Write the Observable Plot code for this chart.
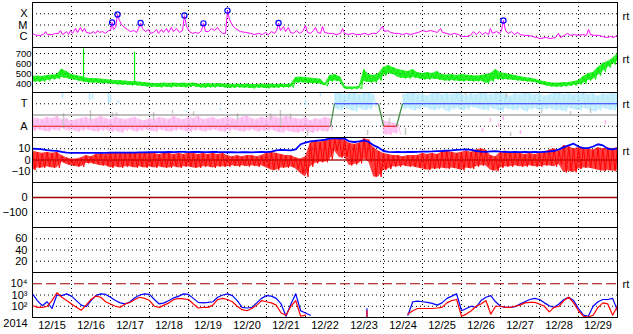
<!DOCTYPE html>
<html><head><meta charset="utf-8">
<script src="https://cdn.jsdelivr.net/npm/d3@7"></script>
<script src="https://cdn.jsdelivr.net/npm/@observablehq/plot@0.6"></script>
<style>
body{margin:0;background:#fff;}
#chart{position:relative;width:633px;height:334px;}
#chart svg{position:absolute;left:0;}
</style></head><body><div id="chart"></div>
<script>
const START = Date.UTC(2014, 11, 15);
const END = Date.UTC(2014, 11, 30);
const STEP_H = 3;
const yearLabel = "2014";
const dayLabels = ["12/15","12/16","12/17","12/18","12/19","12/20","12/21","12/22","12/23","12/24","12/25","12/26","12/27","12/28","12/29"];

// X-ray flux (units of 1e-6 W/m2, i.e. C1 = 1)
const xrHours = [0,1.2,3.1,4.9,6.8,8.0,9.2,12.3,14.2,16,17.2,18.5,20.9,22.2,23.4,24.6,26.5,27.7,29.5,30.8,32,33.2,35.7,37.5,38.8,40,41.2,43.1,44.9,46.8,48,49.0,49.8,51.1,52.3,53.5,54.8,56.6,58.5,60.3,62.2,64,65.2,66.5,67.7,69.5,71.4,72.6,74.5,76.3,77.5,79.4,80.6,82.5,83.7,85.5,86.8,88.6,90.5,92.3,93.5,94.8,96.6,98.5,100.3,102.2,104,105.2,106.5,108.3,110.2,112,113.8,115.1,116.9,118.8,120,121.2,123.1,124.9,128,131.1,134.2,136.6,139.1,141.5,143.4,145.2,147.1,148.9,150.2,151.4,152.6,154.5,155.7,157.5,158.8,160.6,162.5,164.3,166.2,168,169.2,171.1,172.9,174.2,175.4,177.2,178.5,179.7,182.2,184.6,187.1,189.5,190.8,192,194.5,196.9,199.4,201.8,204.3,206.8,209.2,211.7,213.5,215.4,216.6,218.5,220.3,222.8,225.2,227.7,230.2,232.6,235.1,237.5,240,242.5,244.9,247.4,249.2,251.1,252.3,254.8,257.2,259.7,262.2,264.6,267.1,269.5,271.4,273.2,275.1,276.9,278.8,280.6,281.8,283.1,285.5,287.4,288.6,289.8,291.1,292.9,294.8,296.6,298.5,300.3,302.8,305.2,307.7,310.2,312.6,315.7,318.8,321.8,323.7,324.9,327.4,329.2,331.1,333.5,336,338.5,340.9,342.2,343.4,345.8,348.3,350.8,353.2,355.7,357.5,360];
const xrFlux = [1.8,1.4,1.2,1.2,1.5,2.6,1.4,1.4,1.8,1.8,3.2,1.4,2.6,1.4,3.2,1.8,4.9,2.2,6.0,2.6,4.9,2.2,1.8,2.6,1.8,3.2,2.2,2.6,1.8,3.2,3.2,17,4.0,6.0,87,25,11,6.0,4.0,2.6,3.2,2.2,4.9,15,4.9,2.6,4.0,1.8,2.2,4.0,1.8,4.0,2.2,4.9,2.2,6.0,2.6,4.9,2.2,3.2,69,7.4,2.6,1.8,2.2,1.8,3.2,14,2.6,2.6,4.9,3.2,6.0,3.2,1.8,1.8,190,30,9.0,4.9,2.6,2.2,1.8,1.4,1.8,1.4,2.2,1.4,2.6,1.8,3.2,15,3.2,7.4,2.6,6.0,2.2,1.8,3.2,1.8,2.6,9.0,2.2,1.8,3.2,6.0,2.2,1.8,7.4,2.2,1.8,1.8,1.4,1.8,4.9,1.8,1.4,1.8,1.4,1.4,1.8,1.4,1.8,1.8,3.2,7.4,2.6,3.2,2.2,1.8,1.8,1.4,1.8,1.4,1.8,2.2,3.2,2.6,3.2,2.6,2.2,4.9,2.2,1.8,1.4,1.8,1.4,0.95,0.95,1.2,2.6,1.4,2.6,1.4,2.2,1.4,4.9,1.8,2.6,1.8,3.2,25,3.2,1.8,2.6,1.4,2.2,1.4,1.2,1.2,0.95,0.77,0.63,0.77,0.63,0.77,1.8,0.77,1.2,1.8,1.2,1.4,1.2,1.4,1.2,4.0,1.4,1.2,1.2,0.95,0.77,0.95,0.77,1.2];
const flareHours = [49.0,52.3,66.5,93.5,105.2,120,151.4,289.8];
const flareFlux = [17,87,15,69,14,190,15,25];
const xrLevels = [100,10,1];
const xrLabels = ["X","M","C"];

// Solar wind speed (km/s): 3-hourly high / low envelope
const speedHi = [470,475,470,480,485,490,545,520,490,480,470,455,450,450,445,440,435,430,430,425,420,420,415,410,405,400,400,405,400,405,400,405,400,405,395,395,400,395,400,395,395,390,395,390,395,390,390,395,390,395,390,395,390,395,460,465,460,455,450,445,400,480,490,470,370,365,365,370,540,490,480,500,560,580,560,540,530,520,540,510,500,510,500,520,490,485,490,480,490,485,480,475,480,490,500,540,510,500,490,480,470,460,455,445,430,420,410,405,405,410,410,420,430,470,500,510,560,600,620,650,700];
const speedLo = [420,415,420,430,440,445,460,450,440,430,420,410,405,405,400,400,395,390,385,385,380,380,375,370,365,365,360,365,360,365,365,360,365,370,360,355,360,360,365,360,355,355,360,355,355,350,355,355,350,355,355,360,360,360,405,410,405,400,400,395,375,420,425,420,345,340,345,345,420,410,410,430,480,500,490,460,450,450,460,450,440,440,445,440,430,425,430,425,420,425,420,420,425,400,420,440,440,440,435,430,425,420,415,410,395,380,370,365,365,370,375,380,390,400,430,440,480,520,560,590,630];
const speedSpikeHours = [31.4, 62.8];
const speedSpikeTop = [745, 712];
const speedTicks = [700,600,500,400];

// IMF sector (1 = Away, 3 = Toward) and scatter envelopes
const sectorHours = [0,183.4,185.8,212.9,216.0,224.0,227.7,360];
const sectorLevel = [1,1,3,3,1,1,3,3];
const sectorTicks = [3,1];
const sectorLabels = ["T","A"];
const pinkHi = [1.8,1.7,1.6,1.8,1.7,1.9,1.6,1.7,1.5,1.6,1.7,1.8,1.6,1.7,1.9,1.7,1.6,1.8,1.7,1.6,1.7,1.8,1.6,1.5,1.7,1.6,1.8,1.7,1.6,1.9,1.7,1.6,1.8,1.7,1.9,1.6,1.7,1.8,1.6,1.7,1.8,1.7,1.6,1.8,1.9,1.7,1.6,1.8,1.7,1.9,1.8,1.7,1.9,1.8,1.7,1.6,1.8,1.5,1.7,1.6,1.8,1.7,null,null,null,null,null,null,null,null,null,null,1.5,1.4,1.3,1.2,null,null,null,null,null,null,null,null,null,null,null,null,null,null,null,null,null,null,null,null,null,null,null,null,null,null,null,null,null,null,null,null,null,null,null,null,null,null,null,null,null,null,null,null,null];
const pinkLo = [0.6,0.7,0.6,0.5,0.7,0.6,0.8,0.6,0.7,0.5,0.6,0.7,0.6,0.5,0.6,0.7,0.5,0.6,0.4,0.6,0.7,0.5,0.6,0.7,0.6,0.5,0.7,0.6,0.5,0.6,0.7,0.6,0.5,0.6,0.7,0.5,0.6,0.7,0.6,0.5,0.6,0.7,0.6,0.5,0.6,0.7,0.5,0.6,0.6,0.7,0.5,0.4,0.6,0.5,0.4,0.5,0.6,0.4,0.5,0.6,0.5,0.6,null,null,null,null,null,null,null,null,null,null,0.3,0.2,0.4,0.3,null,null,null,null,null,null,null,null,null,null,null,null,null,null,null,null,null,null,null,null,null,null,null,null,null,null,null,null,null,null,null,null,null,null,null,null,null,null,null,null,null,null,null,null,null];
const cyanHi = [null,null,null,null,null,null,null,null,null,null,null,null,null,null,null,null,null,null,null,null,null,null,null,null,null,null,null,null,null,null,null,null,null,null,null,null,null,null,null,null,null,null,null,null,null,null,null,null,null,null,null,null,null,null,null,null,null,null,null,null,null,null,3.9,4.0,3.8,3.9,4.0,3.8,3.9,4.0,3.8,null,null,null,null,null,3.8,3.9,4.0,3.8,3.9,3.7,3.9,4.0,3.8,3.9,3.8,4.0,3.9,3.7,3.9,3.8,4.0,3.9,3.8,3.9,4.0,3.8,3.7,3.9,3.8,4.0,3.9,3.8,3.9,3.7,3.8,3.9,4.0,3.8,3.9,3.8,3.9,4.0,3.8,3.9,3.7,3.9,3.8,4.0,3.9];
const cyanLo = [null,null,null,null,null,null,null,null,null,null,null,null,null,null,null,null,null,null,null,null,null,null,null,null,null,null,null,null,null,null,null,null,null,null,null,null,null,null,null,null,null,null,null,null,null,null,null,null,null,null,null,null,null,null,null,null,null,null,null,null,null,null,2.6,2.4,2.7,2.5,2.3,2.6,2.4,2.5,2.7,null,null,null,null,null,2.5,2.6,2.4,2.5,2.7,2.6,2.4,2.5,2.6,2.3,2.5,2.6,2.4,2.5,2.7,2.6,2.5,2.4,2.6,2.5,2.3,2.6,2.5,2.4,2.6,2.3,2.5,2.6,2.4,2.5,2.6,2.4,2.5,2.3,2.6,2.5,2.4,2.6,2.5,2.3,2.4,2.6,2.5,2.4,2.6];
const cyanDotHours = [18.5,35.1,36.9,46.8,48,52.9,94.8,115.7,168,177.2];
const cyanDotLo = [3.47,3.29,3.4,3.0,3.1,3.0,2.2,2.4,2.8,3.6];
const cyanDotHi = [4.0,4.0,3.85,4.0,3.75,3.3,2.4,2.6,3.3,4.0];
const pinkDotHours = [276.9,281.8,286.8,289.8,300.3,352.6];
const pinkDotLo = [0.44,1.33,0.9,1.5,0.27,1.15];
const pinkDotHi = [0.8,1.69,1.25,1.85,0.62,1.5];
const grayHours = [19.1,35.7,49.2,51.7,74.5,86.2,99.1,126.2,146.5,152.6,158.8,169.2,206.2,219.7,229.5,266.5,291.7,294.2,313.2,331.1,343.4];
const grayLo = [0.8,1.5,1.78,1.85,1.5,2.1,1.95,1.5,1.5,0.8,1.6,0.09,0.18,1.07,0.18,3.73,3.47,0.09,2.1,2.0,2.13];
const grayHi = [2.12,2.4,2.2,2.2,2.2,2.4,2.3,2.1,2.1,2.4,2.1,0.62,0.62,1.69,0.8,4.0,4.0,0.44,2.4,2.3,2.58];

// IMF Bz high / low envelope and Bt (nT)
const bzHi = [8,7,6,7,6,7,4,2,1,1,2,4,3,5,6,5,7,6,7,6,7,6,6,7,6,6,5,6,6,5,6,5,6,6,5,6,5,6,5,6,4,3,4,3,4,4,3,4,6,7,6,5,4,4,2,1,3,15,17,16,17,18,19,19,18,15,14,15,19,18,11,8,6,5,4,4,3,4,4,4,6,5,6,5,7,8,7,6,7,8,7,9,10,9,4,3,7,8,7,6,6,5,6,5,6,7,9,10,8,13,12,10,11,11,10,9,11,10,11,10,11];
const bzLo = [-9,-7,-7,-6,-7,-7,-2,-4,-5,-6,-6,-3,-3,-4,-5,-5,-7,-6,-7,-6,-6,-7,-6,-7,-6,-7,-6,-7,-7,-6,-7,-6,-6,-7,-7,-6,-6,-7,-6,-6,-6,-5,-6,-5,-6,-5,-6,-5,-7,-9,-9,-7,-7,-6,-8,-12,-15,-6,-3,-2,-2,0,8,2,3,-5,-4,-3,1,-2,-15,-15,-9,-8,-6,-6,-5,-6,-6,-7,-8,-9,-8,-8,-7,-8,-7,-8,-9,-7,-8,-6,-5,-5,-9,-10,-7,-6,-6,-5,-6,-6,-5,-6,-6,-5,-5,-6,-4,-11,-10,-11,-8,-7,-7,-8,-9,-10,-9,-10,-9];
const bt = [10,9.8,9.5,8.8,8.4,8.2,7.2,6.6,6.4,6.3,6.4,6.3,6.3,6.4,6.3,6.4,6.5,6.5,6.6,6.5,6.6,6.5,6.7,6.8,6.9,7.0,7.0,6.9,7.1,7.0,7.2,7.3,7.0,7.1,7.2,7.0,7.0,7.3,7.1,7.0,6.9,7.0,6.8,7.0,6.9,6.8,7.0,7.1,7.0,7.5,8.5,9.0,8.8,8.6,9.5,14,15.5,16.5,17,17.5,18,19,19.5,19,19,16.5,16,16.5,17.5,16,13,11,8,7.2,7.0,7.2,7.0,7.3,7.1,7.2,7.4,7.5,7.6,7.8,8.0,8.3,8.6,9.0,9.2,9.5,9.0,8.0,7.5,7.2,7.6,7.8,7.4,7.2,7.0,7.1,7.0,7.2,7.0,7.1,7.0,7.3,7.6,8.0,9.5,11.5,13,14.5,12,10.5,10.5,12,14,13,10,9.5,10.5];
const bTicks = [10,0,-10];

// Dst and lower panel (no data plotted)
const dstTicks = [0,-100];
const p6Ticks = [60,40,20];

// Particle flux (log scale)
const fluxBlue = [1260,320,112,250,63,1000,890,1260,800,320,126,90,320,890,1260,1120,630,320,200,160,250,560,1000,1260,1120,400,160,200,320,560,800,1260,1120,500,220,200,220,250,630,1000,1260,890,320,80,70,80,200,500,890,800,500,160,13,160,1260,40,25,16,null,null,null,null,null,null,null,null,null,null,null,null,null,null,null,null,null,null,null,16,250,280,250,220,180,126,200,500,800,1260,40,63,100,80,320,630,890,250,100,80,80,90,160,250,400,500,400,200,112,80,160,400,630,320,63,16,13,100,250,400,400,500,40];
const fluxRed = [117,80,80,100,320,1580,630,320,160,80,45,126,400,800,630,250,160,100,80,160,220,400,630,500,320,100,80,126,200,400,500,450,400,160,70,80,80,126,400,500,400,250,100,50,40,63,126,320,250,200,126,25,16,100,320,13,16,null,null,null,null,null,null,null,null,null,null,null,null,null,null,null,null,null,null,null,null,20,40,63,63,63,63,70,80,200,320,400,13,20,40,100,160,320,20,100,100,80,80,100,126,200,220,220,160,100,32,80,100,320,630,200,40,13,11,16,80,200,160,16,100];
const fluxSpikeHours = [205.8];
const fluxSpikeBlue = [60];
const fluxSpikeRed = [40];
const fluxTicks = [1e4,1e3,1e2];
const fluxLabels = ["10⁴","10³","10²"];
const fluxThreshold = [1e4];

// ---------- helpers ----------
const T = h => new Date(START + h * 3600e3);
const chart = document.getElementById("chart");
const dayLines = d3.utcDays(new Date(START + 1), new Date(END));
const noonTicks = dayLabels.map((_, i) => T(i * 24 + 12));
const dot = "1,3";
const darkRed = "#a00000";
const FONT = "'Liberation Sans', Arial, Helvetica, sans-serif";

function band(hi, lo) { return hi.map((h, i) => ({t: T(i * STEP_H), hi: h, lo: lo[i]})); }
// alternate between the high and low readings of each 3-hour bin (noisy trace look)
function zigzag(hi, lo) {
  const out = [];
  hi.forEach((h, i) => {
    out.push({t: T(i * STEP_H), v: h});
    out.push({t: T(i * STEP_H + STEP_H / 2), v: lo[i]});
  });
  return out;
}
function series(vals) { return vals.map((v, i) => ({t: T(i * STEP_H), v})); }
function streaks(hours, lo, hi) { return hours.map((h, i) => ({t: T(h), lo: lo[i], hi: hi[i]})); }
function rt(dy) { return Plot.text(["rt"], {text: d => d, frameAnchor: "top-right", dx: 5, dy, textAnchor: "start", fontSize: 11}); }
function noisy(hi, lo, color, areaOpacity) {
  return [
    Plot.areaY(band(hi, lo), {x: "t", y1: "lo", y2: "hi", fill: color, fillOpacity: areaOpacity, clip: true}),
    Plot.line(zigzag(hi, lo), {x: "t", y: "v", stroke: color, strokeWidth: 1, clip: true})
  ];
}

function panel(k, yOpts, marks, bottom = 0, fontSize = "11px") {
  const svg = Plot.plot({
    width: 633, height: 45 + bottom,
    marginLeft: 32, marginRight: 16, marginTop: 0, marginBottom: bottom,
    style: {fontFamily: FONT, fontSize, background: "transparent", overflow: "visible", color: "black"},
    x: bottom ? {type: "utc", domain: [new Date(START), new Date(END)], ticks: noonTicks, tickFormat: d3.utcFormat("%m/%d"), tickSize: 0, tickPadding: 4, label: null}
              : {type: "utc", domain: [new Date(START), new Date(END)], axis: null},
    y: {label: null, tickSize: 0, ...yOpts},
    marks: [
      Plot.ruleX(dayLines, {stroke: "black", strokeDasharray: dot}),
      ...marks,
      Plot.frame({stroke: "black"})
    ]
  });
  svg.style.top = (2 + 45 * k) + "px";
  chart.appendChild(svg);
}

// Panel 1: X-ray
const xr = xrHours.map((h, i) => ({t: T(h), v: xrFlux[i]}));
const flares = flareHours.map((h, i) => ({t: T(h), v: flareFlux[i]}));
panel(0, {type: "log", domain: [0.1, 1000], ticks: xrLevels, tickFormat: d => xrLabels[xrLevels.indexOf(d)], tickPadding: 5}, [
  Plot.ruleY(xrLevels, {stroke: "black", strokeDasharray: dot}),
  Plot.line(xr, {x: "t", y: "v", stroke: "#ff00ff", strokeWidth: 1, clip: true}),
  Plot.dot(flares, {x: "t", y: "v", r: 2.6, stroke: "#0000ff", strokeWidth: 1.2, fill: "none"}),
  rt(10)
]);

// Panel 2: speed
const spikes = speedSpikeHours.map((h, i) => ({t: T(h), v: speedSpikeTop[i]}));
panel(1, {domain: [310, 760], ticks: speedTicks, tickPadding: 1}, [
  Plot.ruleY(speedTicks, {stroke: "black", strokeDasharray: dot}),
  ...noisy(speedHi, speedLo, "#00ee00", 0.8),
  Plot.ruleX(spikes, {x: "t", y1: 420, y2: "v", stroke: "#00ee00", strokeWidth: 1.2}),
  rt(8)
], 0, "9.5px");

// Panel 3: sector
const segs = sectorHours.slice(1).map((h, i) => {
  const a = sectorLevel[i], b = sectorLevel[i + 1];
  return {t1: T(sectorHours[i]), t2: T(h), v1: a, v2: b, c: a !== b ? "#3c8a3c" : (a === 3 ? "#3030ff" : "#e02020")};
});
panel(2, {domain: [0, 4], ticks: sectorTicks, tickFormat: d => sectorLabels[sectorTicks.indexOf(d)], tickPadding: 5}, [
  Plot.ruleY(sectorTicks, {stroke: "black", strokeDasharray: dot}),
  ...noisy(pinkHi, pinkLo, "#ffb4f0", 0.7),
  ...noisy(cyanHi, cyanLo, "#b4eaff", 0.7),
  Plot.ruleX(streaks(cyanDotHours, cyanDotLo, cyanDotHi), {x: "t", y1: "lo", y2: "hi", stroke: "#b4eaff", strokeWidth: 1.5}),
  Plot.ruleX(streaks(pinkDotHours, pinkDotLo, pinkDotHi), {x: "t", y1: "lo", y2: "hi", stroke: "#ffb4f0", strokeWidth: 1.5}),
  Plot.ruleX(streaks(grayHours, grayLo, grayHi), {x: "t", y1: "lo", y2: "hi", stroke: "#c8c8c8", strokeWidth: 1.5}),
  Plot.ruleY([2], {stroke: "#808080", strokeWidth: 1.2}),
  Plot.link(segs, {x1: "t1", x2: "t2", y1: "v1", y2: "v2", stroke: "c", strokeWidth: 1.2}),
  rt(8)
]);

// Panel 4: Bz / Bt
panel(3, {domain: [-20, 20], ticks: bTicks, tickPadding: 2}, [
  Plot.ruleY([10, -10], {stroke: "black", strokeDasharray: dot}),
  Plot.ruleY([0], {stroke: darkRed, strokeWidth: 1.2}),
  ...noisy(bzHi, bzLo, "#ff0000", 0.75),
  Plot.ruleY([0], {stroke: darkRed, strokeWidth: 1, strokeOpacity: 0.6}),
  Plot.line(series(bt), {x: "t", y: "v", stroke: "#0000ff", strokeWidth: 1.8, clip: true}),
  rt(10)
]);

// Panel 5: Dst
panel(4, {domain: [-200, 100], ticks: dstTicks, tickPadding: 5}, [
  Plot.ruleY([-100], {stroke: "black", strokeDasharray: dot}),
  Plot.ruleY([0], {stroke: darkRed, strokeWidth: 1.5})
]);

// Panel 6
panel(5, {domain: [0, 80], ticks: p6Ticks, tickPadding: 5}, [
  Plot.ruleY(p6Ticks, {stroke: "black", strokeDasharray: dot})
]);

// Panel 7: flux + x axis
const fspB = fluxSpikeHours.map((h, i) => ({t: T(h), v: fluxSpikeBlue[i]}));
const fspR = fluxSpikeHours.map((h, i) => ({t: T(h), v: fluxSpikeRed[i]}));
panel(6, {type: "log", domain: [10, 1e5], ticks: fluxTicks, tickFormat: d => fluxLabels[fluxTicks.indexOf(d)], tickPadding: 5}, [
  Plot.ruleY([1e3, 1e2], {stroke: "black", strokeDasharray: dot}),
  Plot.ruleY(fluxThreshold, {stroke: darkRed, strokeWidth: 1.2, strokeDasharray: "10,4"}),
  Plot.line(series(fluxBlue), {x: "t", y: "v", stroke: "#0000ff", strokeWidth: 1.2, clip: true}),
  Plot.line(series(fluxRed), {x: "t", y: "v", stroke: "#ff0000", strokeWidth: 1.2, clip: true}),
  Plot.ruleX(fspB, {x: "t", y1: 10, y2: "v", stroke: "#0000ff", strokeWidth: 1.2}),
  Plot.ruleX(fspR, {x: "t", y1: 10, y2: "v", stroke: "#ff0000", strokeWidth: 1.2}),
  Plot.text([yearLabel], {text: d => d, frameAnchor: "bottom-left", dx: -17, dy: 9, textAnchor: "middle", fontSize: 11}),
  rt(8)
], 17);
</script></body></html>
